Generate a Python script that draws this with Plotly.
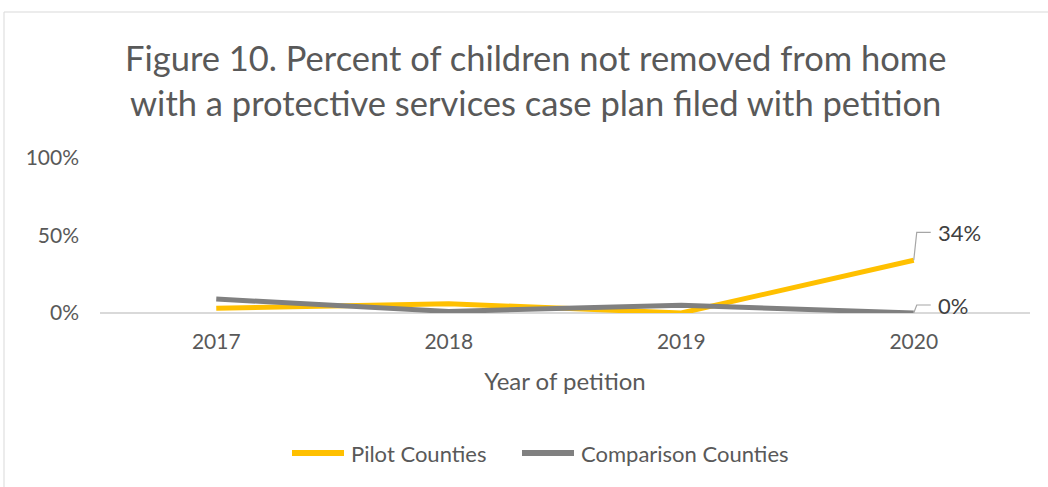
import plotly.graph_objects as go

years = ["2017", "2018", "2019", "2020"]
pilot = [3, 6, 0, 34]
comparison = [9, 1, 5, 0]
y_ticks = [0, 50, 100]
y_tick_labels = ["0%", "50%", "100%"]
title_lines = ["Figure 10. Percent of children not removed from home",
               "with a protective services case plan filed with petition"]
series_names = ["Pilot Counties", "Comparison Counties"]
series_colors = ["#FFC000", "#808080"]

FONT = "Lato"
TXT = "#595959"

# plot area in pixels: x 100..1030, y 158..313
PX0, PX1, PY0, PY1 = 100, 1030, 158, 313


def px_x(p):
    return (p - PX0) / (PX1 - PX0)


def px_y(p):
    return (PY1 - p) / (PY1 - PY0)


fig = go.Figure()
for name, vals, col in zip(series_names, [pilot, comparison], series_colors):
    fig.add_trace(go.Scatter(x=years, y=vals, mode="lines", name=name,
                             line=dict(color=col, width=5), cliponaxis=False,
                             showlegend=False))

# data labels with elbow leader lines on the last point
for val, dy in [(pilot[-1], 28), (comparison[-1], 8)]:
    fig.add_shape(type="path", xref="x", yref="y", xsizemode="pixel", ysizemode="pixel",
                  xanchor=3, yanchor=val,
                  path=f"M 0 0 L 3 {dy} L 17 {dy}",
                  line=dict(color="#A6A6A6", width=1.2), layer="above")
    fig.add_annotation(x=3, y=val, xref="x", yref="y", text=f"{val}%", showarrow=False,
                       xanchor="left", yanchor="middle", xshift=22, yshift=dy,
                       font=dict(family=FONT, size=22, color="#404040"))

# title as two centred lines
for i, line in enumerate(title_lines):
    fig.add_annotation(text=line, xref="paper", yref="paper", x=px_x(535),
                       y=px_y(58 + 44 * i), xanchor="center", yanchor="middle",
                       showarrow=False, font=dict(family=FONT, size=34.5, color=TXT))

# legend drawn like the original (long line swatches)
for (lx0, lx1), name, col in zip([(292, 344), (522, 574)], series_names, series_colors):
    fig.add_shape(type="line", xref="paper", yref="paper",
                  x0=px_x(lx0), x1=px_x(lx1), y0=px_y(453), y1=px_y(453),
                  line=dict(color=col, width=6))
    fig.add_annotation(text=name, xref="paper", yref="paper", x=px_x(lx1 + 5),
                       y=px_y(453), xanchor="left", yanchor="middle", showarrow=False,
                       font=dict(family=FONT, size=22, color=TXT))

# chart-area border
fig.add_shape(type="rect", xref="paper", yref="paper",
              x0=px_x(4), x1=px_x(1070), y0=px_y(520), y1=px_y(12),
              line=dict(color="#D9D9D9", width=1), fillcolor="rgba(0,0,0,0)", layer="below")

fig.update_layout(
    width=1048, height=487,
    margin=dict(l=PX0, r=1048 - PX1, t=PY0, b=487 - PY1, autoexpand=False),
    paper_bgcolor="white", plot_bgcolor="white",
    font=dict(family=FONT, color=TXT),
    showlegend=False,
    xaxis=dict(type="category", range=[-0.5, 3.5], showgrid=False, showline=False,
               zeroline=False, ticks="", ticklabelstandoff=14, automargin=False,
               tickfont=dict(family=FONT, size=21, color=TXT),
               title=dict(text="Year of petition", standoff=21,
                          font=dict(family=FONT, size=24, color=TXT))),
    yaxis=dict(range=[0, 100], tickvals=y_ticks, ticktext=y_tick_labels,
               showgrid=False, zeroline=True, zerolinecolor="#D9D9D9", zerolinewidth=1.5,
               showline=False, ticks="", ticklabelstandoff=20, automargin=False,
               tickfont=dict(family=FONT, size=21, color=TXT)),
)

fig.write_html("out.html")
